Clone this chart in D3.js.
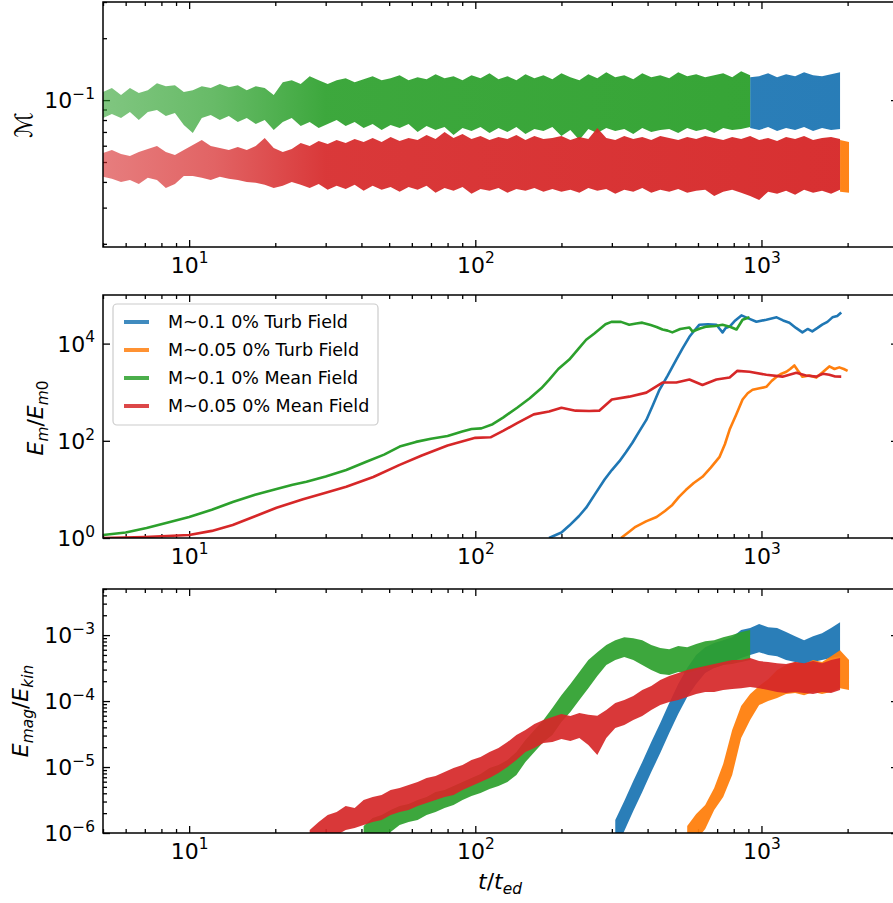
<!DOCTYPE html>
<html><head><meta charset="utf-8">
<script src="https://cdn.jsdelivr.net/npm/d3@7"></script>
<style>body{margin:0;background:#fff} svg{display:block} text{font-family:"DejaVu Sans",sans-serif;fill:#000}</style>
</head><body><svg id="c" width="893" height="903"></svg>
<script>
// ---------------- DATA ----------------
const seriesNames = ["M~0.1 0% Turb Field","M~0.05 0% Turb Field","M~0.1 0% Mean Field","M~0.05 0% Mean Field"];
const seriesColors = ["#1f77b4","#ff7f0e","#2ca02c","#d62728"];
const xTickLabels = ["1","2","3"]; // exponents of 10^k on the time axis

// common time grid (t/t_ed) used by the noisy band series
const tGrid = [5.00,5.37,5.78,6.21,6.67,7.17,7.72,8.29,8.92,9.58,
 10.30,11.07,11.90,12.80,13.76,14.79,15.90,17.09,18.37,19.75,
 21.24,22.83,24.54,26.38,28.36,30.49,32.77,35.24,37.88,40.72,
 43.78,47.06,50.59,54.39,58.46,62.86,67.57,72.63,78.08,83.93,
 90.23,96.98,104.3,112.1,120.5,129.5,139.2,149.7,160.9,173.0,
 185.9,199.9,214.9,231.0,248.3,266.9,286.9,308.4,331.6,356.5,
 383.2,412.0,442.9,476.1,511.8,550.2,591.4,635.9,683.6,734.9,
 790.0,849.2,912.9,981.4,1055,1134,1219,1311,1409,1515,
 1628,1751,1882,2023];

// Panel 1: Mach number envelopes (upper / lower edge of the noisy band)
const machMeanHiHi = [0.1094,0.1144,0.1058,0.1144,0.1082,0.1118,0.1209,0.1169,0.1182,0.1094,
 0.1118,0.1169,0.1144,0.1196,0.1156,0.1182,0.1118,0.1169,0.1144,0.1058,
 0.1223,0.1250,0.1196,0.1307,0.1250,0.1196,0.1250,0.1278,0.1223,0.1264,
 0.1307,0.1250,0.1278,0.1322,0.1250,0.1293,0.1264,0.1337,0.1278,0.1307,
 0.1250,0.1322,0.1278,0.1352,0.1264,0.1307,0.1250,0.1337,0.1278,0.1322,
 0.1264,0.1352,0.1293,0.1250,0.1337,0.1278,0.1367,0.1293,0.1322,0.1264,
 0.1352,0.1293,0.1322,0.1278,0.1367,0.1307,0.1337,0.1293,0.1322,0.1352,
 0.1293,0.1383,0.1322];
const machMeanHiLo = [0.0818,0.0855,0.0818,0.0875,0.0800,0.0875,0.0894,0.0836,0.0865,0.0756,
 0.0691,0.0818,0.0846,0.0800,0.0836,0.0782,0.0818,0.0765,0.0800,0.0715,
 0.0782,0.0818,0.0748,0.0782,0.0731,0.0765,0.0800,0.0748,0.0782,0.0731,
 0.0765,0.0715,0.0756,0.0731,0.0765,0.0699,0.0748,0.0715,0.0740,0.0676,
 0.0731,0.0707,0.0740,0.0691,0.0731,0.0699,0.0740,0.0684,0.0723,0.0707,
 0.0740,0.0669,0.0715,0.0640,0.0723,0.0691,0.0731,0.0707,0.0723,0.0684,
 0.0731,0.0699,0.0715,0.0723,0.0691,0.0731,0.0707,0.0723,0.0691,0.0731,
 0.0715,0.0723,0.0740];
const machTurbHiHi = [0.1293,0.1307,0.1352,0.1293,0.1337,0.1307,0.1367,0.1322,0.1307,0.1337,0.1367];
const machTurbHiLo = [0.0731,0.0715,0.0740,0.0707,0.0731,0.0715,0.0740,0.0707,0.0731,0.0715,0.0723];
const machMeanLoHi = [0.0553,0.0572,0.0547,0.0535,0.0560,0.0579,0.0598,0.0560,0.0541,0.0572,
 0.0605,0.0640,0.0598,0.0585,0.0572,0.0592,0.0572,0.0598,0.0654,0.0585,
 0.0560,0.0579,0.0619,0.0598,0.0633,0.0612,0.0640,0.0619,0.0647,0.0626,
 0.0654,0.0626,0.0661,0.0633,0.0654,0.0640,0.0676,0.0647,0.0699,0.0654,
 0.0684,0.0647,0.0669,0.0640,0.0661,0.0647,0.0676,0.0640,0.0669,0.0647,
 0.0654,0.0669,0.0640,0.0661,0.0647,0.0731,0.0654,0.0640,0.0669,0.0647,
 0.0661,0.0640,0.0669,0.0654,0.0640,0.0661,0.0647,0.0669,0.0654,0.0640,
 0.0661,0.0647,0.0669,0.0640,0.0654,0.0633,0.0661,0.0647,0.0669,0.0640,
 0.0654,0.0661,0.0647];
const machMeanLoLo = [0.0424,0.0414,0.0400,0.0409,0.0391,0.0419,0.0409,0.0374,0.0391,0.0428,
 0.0428,0.0419,0.0409,0.0424,0.0414,0.0409,0.0400,0.0396,0.0387,0.0374,
 0.0383,0.0400,0.0387,0.0374,0.0391,0.0366,0.0383,0.0370,0.0387,0.0362,
 0.0383,0.0366,0.0378,0.0358,0.0378,0.0366,0.0383,0.0354,0.0374,0.0362,
 0.0378,0.0350,0.0370,0.0362,0.0374,0.0354,0.0370,0.0362,0.0374,0.0358,
 0.0370,0.0358,0.0366,0.0354,0.0374,0.0362,0.0370,0.0350,0.0366,0.0358,
 0.0374,0.0354,0.0366,0.0358,0.0370,0.0354,0.0362,0.0366,0.0342,0.0358,
 0.0366,0.0354,0.0342,0.0327,0.0358,0.0350,0.0362,0.0346,0.0366,0.0354,
 0.0362,0.0350,0.0366];
const machTurbLoHi = [0.0640,0.0626];
const machTurbLoLo = [0.0358,0.0354];

// Panel 2: E_m / E_m0 (smoothed curves)
const emTurbHiT = [181,200,213,230,244,262,283,300,319,336,354,375,396,418,440,470,504,530,560,585,607,650,696,715,731,750,774,810,851,900,960,1040,1130,1190,1252,1320,1390,1450,1505,1570,1630,1700,1770,1840,1900];
const emTurbHiV = [1.0,1.3,1.8,2.8,4.2,8,16,25,38,58,91,160,269,550,1120,2200,4680,8000,13800,19000,24500,25000,24500,20000,17000,21000,22400,30000,38000,33000,28200,31000,34700,30000,26900,21000,17000,20000,17800,21000,24500,28000,34700,37000,43700];
const emTurbLoT = [323,345,363,395,430,460,488,515,545,580,622,665,714,745,774,815,859,895,931,985,1040,1085,1130,1175,1222,1260,1303,1340,1390,1470,1555,1640,1726,1800,1870,1940,2000];
const emTurbLoV = [1.0,1.35,1.7,2.2,2.7,3.6,4.8,7,9.8,13.5,18.2,28,46.8,85,170,340,708,950,1120,1200,1290,1700,2090,2400,2630,3000,3550,2800,2090,2200,2000,2600,3390,3000,3240,3000,2750];
const emMeanHiT = [5,6,7.1,8.5,10,12,14.2,17,20.2,23,25.7,30,35.4,41.6,48,54.4,62,70,80,90,97,105,115,125,140,155,170,181,195,213,230,244,260,271,285,299,323,345,365,383,410,430,451,470,488,520,560,574,610,643,690,731,780,818,859,908];
const emMeanHiV = [1.15,1.3,1.6,2.1,2.7,3.8,5.5,7.8,10.2,12.5,14.3,18.5,25,37,52,76,95,110,125,155,175,180,220,300,480,750,1200,1800,3000,4700,8000,12000,16000,19500,25000,28000,28000,24500,26000,27000,24000,22000,19500,18500,17000,20000,21400,17800,20500,22400,23000,24500,22000,19500,31000,34700];
const emMeanLoT = [5,7,10,12,14.2,17,20.2,25,30,35.4,44,54.4,65,80,100,113,125,140,160,181,200,224,250,271,300,345,396,451,504,560,622,696,774,824,908,1040,1184,1324,1430,1555,1640,1726,1810,1900];
const emMeanLoV = [1.0,1.05,1.15,1.4,1.85,2.8,4.2,6.3,8.5,11.3,18,32,50,80,115,118,160,230,350,400,480,417,410,417,710,810,980,1580,1580,1820,1410,1820,2000,2750,2630,2290,2090,2510,2200,2090,2400,2290,2100,2090];

// Panel 3: E_mag / E_kin envelopes
const ratioMeanLoHi = [1.11e-6,1.47e-6,1.87e-6,2.08e-6,2.57e-6,2.39e-6,3.16e-6,3.51e-6,3.76e-6,4.48e-6,
 4.80e-6,5.33e-6,5.92e-6,6.81e-6,7.30e-6,8.39e-6,9.65e-6,1.07e-5,1.28e-5,1.42e-5,
 1.69e-5,1.94e-5,2.39e-5,3.05e-5,3.64e-5,4.48e-5,5.15e-5,5.72e-5,6.35e-5,5.92e-5,
 6.57e-5,6.20e-5,6.00e-5,7.30e-5,9.32e-5,1.04e-4,1.19e-4,1.47e-4,1.69e-4,2.08e-4,
 2.39e-4,2.66e-4,2.95e-4,3.16e-4,3.39e-4,3.64e-4,3.90e-4,4.18e-4,4.18e-4,4.48e-4,
 4.04e-4,3.90e-4,3.76e-4,3.64e-4,3.90e-4,3.76e-4,4.04e-4,3.76e-4,4.18e-4,4.48e-4];
const ratioMeanLoLo = [6.6e-7,7.3e-7,8.4e-7,9.3e-7,1.11e-6,1.19e-6,1.32e-6,1.47e-6,1.57e-6,1.87e-6,
 2.08e-6,2.23e-6,2.57e-6,2.85e-6,3.16e-6,3.51e-6,3.76e-6,4.48e-6,5.15e-6,5.92e-6,
 6.81e-6,8.10e-6,1.00e-5,1.28e-5,1.69e-5,1.94e-5,2.31e-5,2.39e-5,2.66e-5,2.48e-5,
 2.75e-5,2.15e-5,1.52e-5,2.75e-5,3.90e-5,4.33e-5,5.15e-5,5.92e-5,7.30e-5,8.69e-5,
 9.65e-5,1.04e-4,1.15e-4,1.28e-4,1.37e-4,1.37e-4,1.47e-4,1.52e-4,1.57e-4,1.63e-4,
 1.57e-4,1.47e-4,1.37e-4,1.32e-4,1.37e-4,1.32e-4,1.28e-4,1.37e-4,1.32e-4,1.47e-4];
const ratioMeanHiHi = [1.28e-6,1.69e-6,1.87e-6,2.23e-6,2.57e-6,2.75e-6,3.16e-6,3.51e-6,4.18e-6,4.48e-6,
 5.15e-6,5.92e-6,6.81e-6,7.83e-6,9.65e-6,1.07e-5,1.28e-5,1.69e-5,2.57e-5,3.64e-5,
 5.15e-5,7.83e-5,1.23e-4,1.81e-4,2.75e-4,4.18e-4,5.52e-4,7.05e-4,8.39e-4,9.32e-4,
 9.00e-4,8.39e-4,7.05e-4,6.35e-4,6.13e-4,6.81e-4,6.57e-4,7.30e-4,8.10e-4,8.39e-4,
 9.32e-4,1.00e-3,1.11e-3,1.19e-3];
const ratioMeanHiLo = [6.6e-7,7.8e-7,9.3e-7,1.04e-6,1.32e-6,1.47e-6,1.57e-6,1.87e-6,2.08e-6,2.39e-6,
 2.66e-6,3.16e-6,3.64e-6,4.04e-6,4.64e-6,5.15e-6,5.92e-6,7.56e-6,1.19e-5,1.69e-5,
 2.39e-5,3.05e-5,4.80e-5,6.81e-5,1.04e-4,1.57e-4,2.39e-4,3.51e-4,4.18e-4,4.64e-4,
 4.18e-4,3.51e-4,2.95e-4,2.57e-4,2.48e-4,2.75e-4,2.66e-4,2.95e-4,3.16e-4,3.16e-4,
 3.51e-4,3.64e-4,3.90e-4,4.18e-4];
const ratioTurbHiHi = [1.57e-6,3.05e-6,6.13e-6,1.19e-5,2.39e-5,4.64e-5,9.32e-5,1.81e-4,3.16e-4,4.98e-4,
 6.57e-4,7.56e-4,8.39e-4,9.32e-4,1.19e-3,1.28e-3,1.47e-3,1.32e-3,1.28e-3,1.11e-3,
 9.65e-4,8.39e-4,9.65e-4,1.07e-3,1.28e-3,1.57e-3];
const ratioTurbHiLo = [5.5e-7,1.07e-6,2.15e-6,4.18e-6,8.39e-6,1.63e-5,3.27e-5,6.35e-5,1.15e-4,1.81e-4,
 2.66e-4,3.16e-4,3.51e-4,3.90e-4,4.48e-4,4.98e-4,5.52e-4,4.98e-4,4.80e-4,4.18e-4,
 3.90e-4,3.51e-4,3.90e-4,4.18e-4,4.48e-4,4.80e-4];
const ratioTurbLoHi = [1.28e-6,1.94e-6,2.66e-6,4.80e-6,1.11e-5,3.64e-5,8.39e-5,1.28e-4,1.69e-4,2.15e-4,
 2.95e-4,3.51e-4,3.90e-4,3.64e-4,4.18e-4,3.90e-4,4.80e-4,5.92e-4,4.18e-4];
const ratioTurbLoLo = [5.5e-7,7.8e-7,1.15e-6,2.23e-6,3.51e-6,7.56e-6,2.75e-5,5.15e-5,8.69e-5,1.00e-4,
 1.11e-4,1.28e-4,1.32e-4,1.23e-4,1.37e-4,1.28e-4,1.37e-4,1.57e-4,1.47e-4];

// ---------------- LAYOUT ----------------
const svg = d3.select("#c");
svg.append("rect").attr("width",893).attr("height",903).attr("fill","#fff");
const X0 = 103, X1 = 898;
const FS = 22;
const x = d3.scaleLog().domain([5, 3000]).range([X0, X1]);
const panels = [
  {top: 2,   bottom: 247, domain: [0.0193, 0.30]},
  {top: 295, bottom: 538, domain: [1, 1e5]},
  {top: 589, bottom: 833, domain: [1e-6, 5.0e-3]}
];
panels.forEach(p => p.y = d3.scaleLog().domain(p.domain).range([p.bottom, p.top]));

const defs = svg.append("defs");
panels.forEach((p,i) => {
  defs.append("clipPath").attr("id","clip"+i).append("rect")
    .attr("x",X0).attr("y",p.top).attr("width",X1-X0).attr("height",p.bottom-p.top);
});
// lighter look of the sparse early samples in panel 1
seriesColors.forEach((c,i) => {
  const g = defs.append("linearGradient").attr("id","fade"+i).attr("gradientUnits","userSpaceOnUse")
    .attr("x1",X0).attr("x2",X1).attr("y1",0).attr("y2",0);
  [[0,0.6],[0.14,0.72],[0.28,0.92],[1,0.96]].forEach(s =>
    g.append("stop").attr("offset",s[0]).attr("stop-color",c).attr("stop-opacity",s[1]));
});

function mathText(sel, parts, fs, base) {
  let cur = -(base || 0);
  parts.forEach(p => {
    const target = p.sub ? fs*0.22 : p.sup ? -fs*0.42 : 0;
    const ts = sel.append("tspan").text(p.t).attr("dy", (target-cur).toFixed(2)+"px");
    if (p.sub || p.sup) ts.attr("font-size", (fs*0.7)+"px");
    if (p.it) ts.attr("font-style","italic");
    cur = target;
  });
}
function logVals(lo, hi, subs) {
  const out = [];
  for (let e = Math.floor(Math.log10(lo)) - 1; e <= Math.ceil(Math.log10(hi)); e++)
    subs.forEach(s => { const v = s*Math.pow(10,e); if (v >= lo*0.999 && v <= hi*1.001) out.push(v); });
  return out;
}
const minorSubs = [2,3,4,5,6,7,8,9];
const xMajor = xTickLabels.map(k => Math.pow(10, +k));
const xMinor = logVals(5, 3000, minorSubs);
const expOf = v => Math.round(Math.log10(v));
const fmtExp = v => { const e = expOf(v); return e < 0 ? "\u2212" + (-e) : String(e); };

function styleTicks(g) {
  g.select(".domain").remove();
  g.selectAll("line").attr("stroke","#000").attr("stroke-width",1.3);
}
function supLabels(orient) {
  return g => g.selectAll(".tick text").each(function(d) {
    const t = d3.select(this); t.text(null).attr("dy", null);
    t.attr("font-size", FS+"px").attr("font-family","DejaVu Sans");
    if (orient === "bottom") t.attr("y", 10 + 0.71*FS); else t.attr("y", 0.34*FS);
    mathText(t, [{t:"10"},{t:fmtExp(d), sup:true}], FS, 0);
  });
}

const yMajors = [[0.1], [1,100,1e4], [1e-6,1e-5,1e-4,1e-3]];
const yMinors = [logVals(0.0193,0.30,minorSubs), [], logVals(1e-6,5e-3,minorSubs)];

panels.forEach((p,i) => {
  const g = svg.append("g");
  g.append("g").attr("transform",`translate(0,${p.bottom})`)
    .call(d3.axisBottom(x).tickValues(xMinor).tickSize(-4).tickSizeOuter(0).tickFormat(""))
    .call(styleTicks);
  g.append("g").attr("transform",`translate(0,${p.bottom})`)
    .call(d3.axisBottom(x).tickValues(xMajor).tickSize(-7).tickSizeOuter(0).tickPadding(10))
    .call(styleTicks).call(supLabels("bottom"));
  g.append("g").attr("transform",`translate(0,${p.top})`)
    .call(d3.axisTop(x).tickValues(xMinor).tickSize(-4).tickSizeOuter(0).tickFormat(""))
    .call(styleTicks);
  g.append("g").attr("transform",`translate(0,${p.top})`)
    .call(d3.axisTop(x).tickValues(xMajor).tickSize(-7).tickSizeOuter(0).tickFormat(""))
    .call(styleTicks);
  g.append("g").attr("transform",`translate(${X0},0)`)
    .call(d3.axisLeft(p.y).tickValues(yMinors[i]).tickSize(-4).tickSizeOuter(0).tickFormat(""))
    .call(styleTicks);
  g.append("g").attr("transform",`translate(${X0},0)`)
    .call(d3.axisLeft(p.y).tickValues(yMajors[i]).tickSize(-7).tickSizeOuter(0).tickPadding(8))
    .call(styleTicks).call(supLabels("left"));
  g.append("g").attr("transform",`translate(${X1},0)`)
    .call(d3.axisRight(p.y).tickValues(yMinors[i]).tickSize(-4).tickSizeOuter(0).tickFormat(""))
    .call(styleTicks);
  g.append("g").attr("transform",`translate(${X1},0)`)
    .call(d3.axisRight(p.y).tickValues(yMajors[i]).tickSize(-7).tickSizeOuter(0).tickFormat(""))
    .call(styleTicks);
  p.plot = svg.append("g").attr("clip-path",`url(#clip${i})`);
});

function band(p, ts, hi, lo, fill, op) {
  const data = ts.map((t,k) => ({t, hi: hi[k], lo: lo[k]}));
  const area = d3.area().x(d => x(d.t)).y0(d => p.y(d.lo)).y1(d => p.y(d.hi));
  p.plot.append("path").datum(data).attr("d", area).attr("fill", fill)
    .attr("fill-opacity", op);
}
// Panel 1 (order: blue, orange, green, red)
const P1 = panels[0];
band(P1, tGrid.slice(72,83), machTurbHiHi, machTurbHiLo, "url(#fade0)", 1);
band(P1, tGrid.slice(82,84), machTurbLoHi, machTurbLoLo, "url(#fade1)", 1);
band(P1, tGrid.slice(0,73), machMeanHiHi, machMeanHiLo, "url(#fade2)", 1);
band(P1, tGrid.slice(0,83), machMeanLoHi, machMeanLoLo, "url(#fade3)", 1);

// Panel 2 lines
const P2 = panels[1];
const lineSeries = [[emTurbHiT, emTurbHiV],[emTurbLoT, emTurbLoV],[emMeanHiT, emMeanHiV],[emMeanLoT, emMeanLoV]];
lineSeries.forEach((s,i) => {
  const data = s[0].map((t,k) => ({t, v: s[1][k]}));
  P2.plot.append("path").datum(data)
    .attr("d", d3.line().x(d => x(d.t)).y(d => P2.y(d.v)))
    .attr("fill","none").attr("stroke",seriesColors[i]).attr("stroke-width",2.6)
    .attr("stroke-linejoin","round");
});

// Panel 3 bands
const P3 = panels[2];
band(P3, tGrid.slice(57,83), ratioTurbHiHi, ratioTurbHiLo, seriesColors[0], 0.95);
band(P3, tGrid.slice(65,84), ratioTurbLoHi, ratioTurbLoLo, seriesColors[1], 0.95);
band(P3, tGrid.slice(29,73), ratioMeanHiHi, ratioMeanHiLo, seriesColors[2], 0.92);
band(P3, tGrid.slice(23,83), ratioMeanLoHi, ratioMeanLoLo, seriesColors[3], 0.92);

// spines
panels.forEach(p => {
  svg.append("rect").attr("x",X0).attr("y",p.top).attr("width",X1-X0).attr("height",p.bottom-p.top)
    .attr("fill","none").attr("stroke","#000").attr("stroke-width",1.5);
});

// legend
const lg = svg.append("g");
lg.append("rect").attr("x",113).attr("y",304).attr("width",265).attr("height",121).attr("rx",4)
  .attr("fill","#fff").attr("fill-opacity",0.8).attr("stroke","#cccccc").attr("stroke-width",1.2);
seriesNames.forEach((n,i) => {
  const yy = 322 + i*28;
  lg.append("line").attr("x1",124).attr("x2",149).attr("y1",yy).attr("y2",yy)
    .attr("stroke",seriesColors[i]).attr("stroke-width",4).attr("stroke-opacity",0.85);
  lg.append("text").attr("x",168).attr("y",yy).attr("dy","0.35em").attr("font-size","17.5px").text(n);
});

// axis labels (rotated: positive dy moves right on screen)
const yl1 = svg.append("text").attr("transform","translate(24,125) rotate(-90)").attr("text-anchor","middle")
  .attr("font-size","24px");
mathText(yl1, [{t:"\u2133"}], 24, 24*0.35);
const yl2 = svg.append("text").attr("transform","translate(35,418) rotate(-90)").attr("text-anchor","middle")
  .attr("font-size",FS+"px");
mathText(yl2, [{t:"E",it:true},{t:"m",it:true,sub:true},{t:"/"},{t:"E",it:true},{t:"m",it:true,sub:true},{t:"0",sub:true}], FS, FS*0.35);
const yl3 = svg.append("text").attr("transform","translate(20,711) rotate(-90)").attr("text-anchor","middle")
  .attr("font-size",FS+"px");
mathText(yl3, [{t:"E",it:true},{t:"mag",it:true,sub:true},{t:"/"},{t:"E",it:true},{t:"kin",it:true,sub:true}], FS, FS*0.35);
const xl = svg.append("text").attr("x",500).attr("y",889).attr("text-anchor","middle").attr("font-size",FS+"px");
mathText(xl, [{t:"t",it:true},{t:"/"},{t:"t",it:true},{t:"ed",it:true,sub:true}], FS, 0);
</script></body></html>
